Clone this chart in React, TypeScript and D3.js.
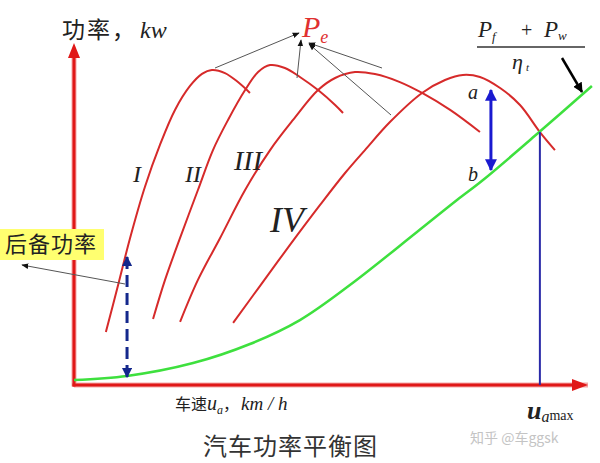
import React from "react";
import * as d3 from "d3";

// speed (km/h) and power (kW) samples
const curveISpeed = [12.5, 17.3, 22.0, 27.8, 33.7, 39.6, 45.5, 50.2, 54.1, 59.2, 64.3, 69.0];
const curveIPower = [31.2, 58.8, 86.5, 116.5, 141.2, 161.8, 175.9, 183.0, 185.3, 183.5, 178.2, 171.8];
const curveIISpeed = [31.0, 35.7, 41.6, 48.6, 54.5, 60.4, 67.1, 72.2, 76.9, 82.7, 88.6, 95.7, 102.4, 105.5];
const curveIIPower = [38.8, 61.8, 86.5, 114.7, 138.2, 155.9, 173.5, 184.1, 188.2, 186.5, 181.2, 173.5, 164.7, 160.0];
const curveIIISpeed = [41.6, 48.6, 57.3, 67.1, 76.9, 85.9, 95.7, 102.4, 110.2, 118.0, 127.8, 136.5, 147.5, 159.2];
const curveIIIPower = [37.1, 61.8, 86.5, 114.7, 138.2, 155.9, 173.5, 180.6, 184.1, 182.9, 178.2, 171.8, 161.8, 148.8];
const curveIVSpeed = [62.4, 72.9, 84.7, 96.5, 106.3, 114.1, 123.9, 136.5, 145.5, 152.5, 159.2, 167.1, 174.9, 182.7, 188.6];
const curveIVPower = [36.5, 58.2, 82.4, 105.9, 124.7, 138.2, 154.7, 171.8, 179.4, 182.4, 181.2, 174.7, 164.7, 148.8, 138.2];
const resistSpeed = [0, 20.8, 46.7, 69.0, 88.6, 108.2, 134.5, 150.2, 160.4, 182.0, 203.1];
const resistPower = [2.9, 5.3, 12.9, 24.1, 38.2, 58.8, 90.0, 108.8, 120.6, 148.2, 175.9];

const gearLabels = ["I", "II", "III", "IV"];
const uMax = 182.7;
const reserveSpeed = 20.8;
const reserveTop = 75.3;
const reserveBottom = 4.7;
const abSpeed = 163.5;
const abTop = 173.5;
const abBottom = 125.3;

const W = 600;
const H = 463;
const x = d3.scaleLinear().domain([0, 200]).range([74, 584]);
const y = d3.scaleLinear().domain([0, 200]).range([385, 45]);

const zip = (a: number[], b: number[]) => a.map((v, i) => [v, b[i]] as [number, number]);
const line = d3
  .line<[number, number]>()
  .x((d) => x(d[0]))
  .y((d) => y(d[1]))
  .curve(d3.curveCatmullRom.alpha(0.5));

const curves = [
  zip(curveISpeed, curveIPower),
  zip(curveIISpeed, curveIIPower),
  zip(curveIIISpeed, curveIIIPower),
  zip(curveIVSpeed, curveIVPower),
];

const serif = "'Liberation Serif', 'DejaVu Serif', serif";
const cjk = "'Noto Sans CJK SC', sans-serif";
const red = "#d62a2a";

export default function App() {
  const uMaxTop = 148.8;
  const labelPos = [
    { cx: 137, by: 182, fs: 24 },
    { cx: 193, by: 182, fs: 24 },
    { cx: 248, by: 170, fs: 28 },
    { cx: 287, by: 232, fs: 36 },
  ];
  return (
    <svg
      width={W}
      height={H}
      style={{ position: "fixed", left: 0, top: 0, background: "#fff" }}
    >
      <defs>
        <marker id="blueHead" viewBox="0 0 10 10" refX="9" refY="5" markerWidth="4" markerHeight="4" orient="auto-start-reverse" markerUnits="strokeWidth">
          <path d="M0,0 L10,5 L0,10 z" fill="#1a1ad0" />
        </marker>
        <marker id="navyHead" viewBox="0 0 10 10" refX="9" refY="5" markerWidth="3.5" markerHeight="3.5" orient="auto-start-reverse" markerUnits="strokeWidth">
          <path d="M0,0 L10,5 L0,10 z" fill="#14288c" />
        </marker>
        <marker id="grayHead" viewBox="0 0 10 10" refX="9" refY="5" markerWidth="7" markerHeight="7" orient="auto" markerUnits="strokeWidth">
          <path d="M0,1 L10,5 L0,9 z" fill="#111" />
        </marker>
        <marker id="blackHead" viewBox="0 0 10 10" refX="9" refY="5" markerWidth="4" markerHeight="4" orient="auto" markerUnits="strokeWidth">
          <path d="M0,0 L10,5 L0,10 z" fill="#000" />
        </marker>
      </defs>

      {/* axes */}
      <line x1={x(0)} y1={y(0)} x2={588} y2={y(0)} stroke="#f5a8a8" strokeWidth={5} />
      <line x1={x(0)} y1={y(0) + 1.5} x2={x(0)} y2={55} stroke="#f5a8a8" strokeWidth={5} />
      <line x1={x(0) - 1.5} y1={y(0)} x2={575} y2={y(0)} stroke="#e01818" strokeWidth={3} />
      <line x1={x(0)} y1={y(0) + 1.5} x2={x(0)} y2={56} stroke="#e01818" strokeWidth={3} />
      <path d={`M588,${y(0)} L572,${y(0) - 6} L572,${y(0) + 6} Z`} fill="#e01818" />
      <path d={`M${x(0)},43 L${x(0) - 6},58 L${x(0) + 6},58 Z`} fill="#e01818" />

      {/* engine power curves */}
      {curves.map((c, i) => (
        <path key={i} d={line(c) || ""} fill="none" stroke={red} strokeWidth={2} />
      ))}

      {/* resistance power curve */}
      <path
        d={line(zip(resistSpeed, resistPower)) || ""}
        fill="none"
        stroke="#3ee03e"
        strokeWidth={2.5}
      />

      {/* u_amax vertical */}
      <line x1={x(uMax)} y1={y(0)} x2={x(uMax)} y2={y(uMaxTop)} stroke="#2a2aa8" strokeWidth={2} />

      {/* a-b arrow */}
      <line
        x1={x(abSpeed)}
        y1={y(abBottom) - 2}
        x2={x(abSpeed)}
        y2={y(abTop)}
        stroke="#1a1ad0"
        strokeWidth={3}
        markerStart="url(#blueHead)"
        markerEnd="url(#blueHead)"
      />
      <text x={473} y={99} fontFamily={serif} fontStyle="italic" fontSize={20} textAnchor="middle" fill="#222">a</text>
      <text x={473} y={181} fontFamily={serif} fontStyle="italic" fontSize={20} textAnchor="middle" fill="#222">b</text>

      {/* reserve power dashed arrow */}
      <line
        x1={x(reserveSpeed)}
        y1={y(reserveBottom)}
        x2={x(reserveSpeed)}
        y2={y(reserveTop)}
        stroke="#14288c"
        strokeWidth={3}
        strokeDasharray="12,6"
        markerStart="url(#navyHead)"
        markerEnd="url(#navyHead)"
      />

      {/* 后备功率 label */}
      <rect x={0} y={229} width={104} height={31} fill="#ffff70" />
      <text x={5} y={252} fontFamily={cjk} fontSize={22} fill="#222" letterSpacing={1}>后备功率</text>
      <line x1={125} y1={284} x2={22} y2={265} stroke="#555" strokeWidth={1} markerEnd="url(#grayHead)" />

      {/* gear labels */}
      {gearLabels.map((g, i) => (
        <text
          key={g}
          x={labelPos[i].cx}
          y={labelPos[i].by}
          fontFamily={serif}
          fontStyle="italic"
          fontSize={labelPos[i].fs}
          textAnchor="middle"
          fill="#222"
        >
          {g}
        </text>
      ))}

      {/* P_e label + pointers */}
      <text x={302} y={37} fontFamily={serif} fontStyle="italic" fontSize={30} fill="#e03030">
        P
        <tspan fontSize={18} dy={6}>e</tspan>
      </text>
      <line x1={215} y1={68} x2={299} y2={33} stroke="#555" strokeWidth={1} markerEnd="url(#grayHead)" />
      <line x1={297} y1={78} x2={301} y2={40} stroke="#555" strokeWidth={1} markerEnd="url(#grayHead)" />
      <line x1={382} y1={68} x2={309} y2={43} stroke="#555" strokeWidth={1} markerEnd="url(#grayHead)" />
      <line x1={391} y1={115} x2={309} y2={44} stroke="#555" strokeWidth={1} markerEnd="url(#grayHead)" />

      {/* formula */}
      <text x={478} y={37} fontFamily={serif} fontStyle="italic" fontSize={23} fill="#222">
        P
        <tspan fontSize={13} dy={4}>f</tspan>
      </text>
      <text x={521} y={37} fontFamily={serif} fontSize={20} fill="#222">+</text>
      <text x={544} y={37} fontFamily={serif} fontStyle="italic" fontSize={23} fill="#222">
        P
        <tspan fontSize={13} dy={3}>w</tspan>
      </text>
      <line x1={477} y1={47} x2={585} y2={47} stroke="#333" strokeWidth={1.5} />
      <text x={512} y={69} fontFamily={serif} fontStyle="italic" fontSize={22} fill="#222">
        η
        <tspan fontSize={11} dx={3} dy={2}>t</tspan>
      </text>
      <line x1={562} y1={58} x2={582} y2={92} stroke="#000" strokeWidth={2.5} markerEnd="url(#blackHead)" />

      {/* axis titles */}
      <text x={62} y={38} fontFamily={cjk} fontSize={23} fill="#222" letterSpacing={2}>功率，</text>
      <text x={140} y={38} fontFamily={serif} fontStyle="italic" fontSize={24} fill="#222">kw</text>

      <text x={175} y={410} fontFamily={cjk} fontSize={16} fill="#222">
        车速
        <tspan fontFamily={serif} fontStyle="italic" fontSize={20}>u</tspan>
        <tspan fontFamily={serif} fontStyle="italic" fontSize={12} dy={4}>a</tspan>
        <tspan dy={-4}>，</tspan>
        <tspan fontFamily={serif} fontStyle="italic" fontSize={19} dx={2}>km / h</tspan>
      </text>

      <text x={527} y={419} fontFamily={serif} fontStyle="italic" fontWeight="bold" fontSize={26} fill="#222">
        u
        <tspan fontSize={16} fontWeight="normal" dy={3}>a</tspan>
        <tspan fontSize={14} fontStyle="normal" fontWeight="normal" dy={-2}>max</tspan>
      </text>

      <text x={470} y={443} fontFamily={cjk} fontSize={14} fill="#c4c4c4">知乎 @车ggsk</text>

      <text x={203} y={455} fontFamily={cjk} fontSize={24} fill="#333" letterSpacing={1}>汽车功率平衡图</text>
    </svg>
  );
}
